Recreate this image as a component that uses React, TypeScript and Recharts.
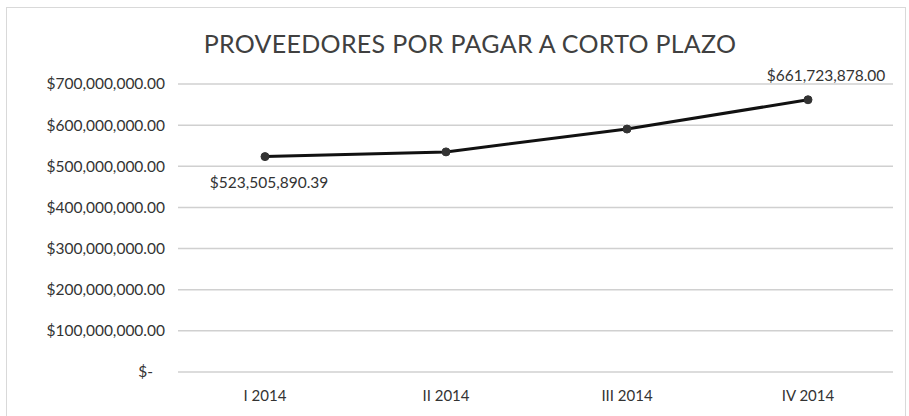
import React from 'react';
import { LineChart, Line, XAxis, YAxis, CartesianGrid } from 'recharts';

const categories = ['I 2014', 'II 2014', 'III 2014', 'IV 2014'];
const amounts = [523505890.39, 535000000, 590500000, 661723878.0];
const yTicks = [0, 100000000, 200000000, 300000000, 400000000, 500000000, 600000000, 700000000];
const labelledPoints = [0, 3];

const FONT = 'Lato, "Open Sans", sans-serif';

const money = (v: number) =>
  '$' + v.toLocaleString('en-US', { minimumFractionDigits: 2, maximumFractionDigits: 2 });

const YTick = (props: any) => {
  const { x, y, payload } = props;
  const zero = payload.value === 0;
  return (
    <text
      x={zero ? x - 12 : x}
      y={y}
      dy='0.35em'
      textAnchor='end'
      fill='#333'
      fontSize={15.5}
      fontFamily={FONT}
    >
      {zero ? '$-' : money(payload.value)}
    </text>
  );
};

const PointLabel = (props: any) => {
  const { x, y, index, value } = props;
  if (!labelledPoints.includes(index)) return null;
  const below = index === 0;
  return (
    <text
      x={below ? x + 4 : x + 18}
      y={below ? y + 31 : y - 19}
      textAnchor='middle'
      fill='#333'
      fontSize={15.5}
      fontFamily={FONT}
    >
      {money(value)}
    </text>
  );
};

const App: React.FC = () => {
  if (typeof document !== 'undefined') document.body.style.margin = '0';

  const data = categories.map((name, i) => ({ name, amount: amounts[i] }));

  return (
    <div
      style={{
        position: 'relative',
        width: 909,
        height: 416,
        background: '#fff',
        fontFamily: FONT,
      }}
    >
      <div
        style={{
          position: 'absolute',
          left: 6,
          top: 7,
          width: 900,
          height: 420,
          border: '1px solid #d9d9d9',
          boxSizing: 'border-box',
        }}
      />
      <div
        style={{
          position: 'absolute',
          top: 28,
          left: 0,
          width: 940,
          textAlign: 'center',
          fontSize: 25,
          color: '#404040',
          letterSpacing: 0.3,
        }}
      >
        PROVEEDORES POR PAGAR A CORTO PLAZO
      </div>
      <LineChart
        width={909}
        height={416}
        data={data}
        margin={{ top: 84, right: 16, bottom: 14, left: 0 }}
      >
        <CartesianGrid vertical={false} stroke='#d0d0d0' strokeWidth={1.5} />
        <XAxis
          dataKey='name'
          axisLine={false}
          tickLine={false}
          height={30}
          tickMargin={12}
          padding={{ left: 87, right: 85 }}
          tick={{ fill: '#333', fontSize: 15, fontFamily: FONT }}
        />
        <YAxis
          domain={[0, 700000000]}
          ticks={yTicks}
          width={178}
          axisLine={false}
          tickLine={false}
          tickMargin={7}
          tick={<YTick />}
        />
        <Line
          type='linear'
          dataKey='amount'
          stroke='#111'
          strokeWidth={3}
          dot={{ r: 4, fill: '#333', stroke: '#333', strokeWidth: 1 }}
          isAnimationActive={false}
          label={<PointLabel />}
        />
      </LineChart>
    </div>
  );
};

export default App;
